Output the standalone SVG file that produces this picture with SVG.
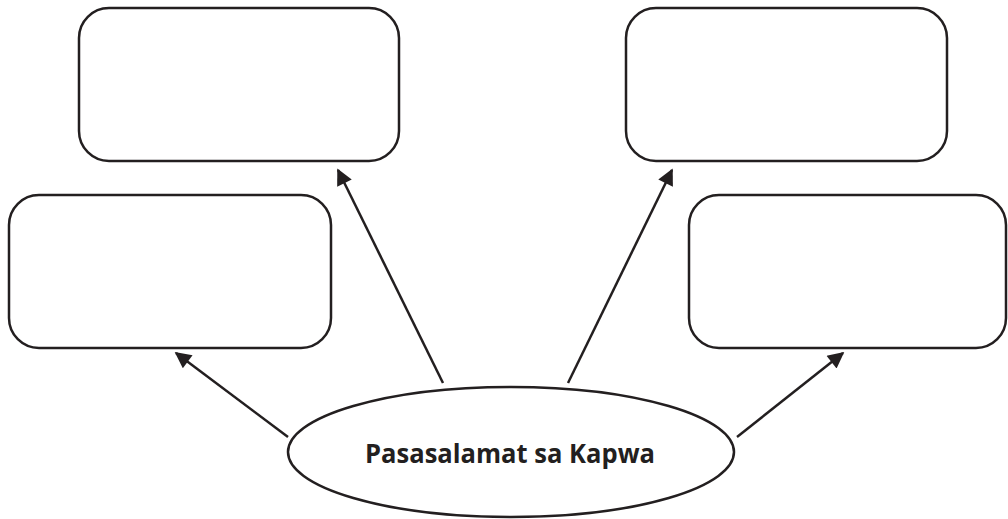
<svg xmlns="http://www.w3.org/2000/svg" width="1008" height="519" viewBox="0 0 1008 519">
<style>
.box{fill:#fff;stroke:#231f20;stroke-width:2.5}
.conn{stroke:#231f20;stroke-width:2.5;fill:none}
.lbl{font-family:"Open Sans","Liberation Sans",sans-serif;font-weight:bold;font-size:27px;fill:#231f20}
</style>
<defs>
<marker id="ah" viewBox="0 0 10 10" refX="9" refY="5" markerWidth="7.5" markerHeight="6.5" markerUnits="strokeWidth" orient="auto">
<path d="M0,0 L10,5 L0,10 z" fill="#231f20"/>
</marker>
</defs>
<rect width="1008" height="519" fill="#fff"/>
<g id="box-top-left"><rect class="box" x="79" y="8" width="320" height="153" rx="30"/></g>
<g id="box-left"><rect class="box" x="9" y="195" width="322" height="153" rx="30"/></g>
<g id="box-top-right"><rect class="box" x="626" y="8" width="321" height="153" rx="30"/></g>
<g id="box-right"><rect class="box" x="689" y="195" width="317" height="153" rx="30"/></g>
<g id="center">
<ellipse class="box" cx="511" cy="452" rx="223" ry="65"/>
<text class="lbl" x="365" y="463" textLength="290" lengthAdjust="spacingAndGlyphs">Pasasalamat sa Kapwa</text>
</g>
<g id="connectors">
<line class="conn" x1="288" y1="437" x2="176" y2="353" marker-end="url(#ah)"/>
<line class="conn" x1="443" y1="383" x2="338" y2="170" marker-end="url(#ah)"/>
<line class="conn" x1="568" y1="383" x2="672" y2="170" marker-end="url(#ah)"/>
<line class="conn" x1="737" y1="437" x2="843" y2="353" marker-end="url(#ah)"/>
</g>
</svg>
